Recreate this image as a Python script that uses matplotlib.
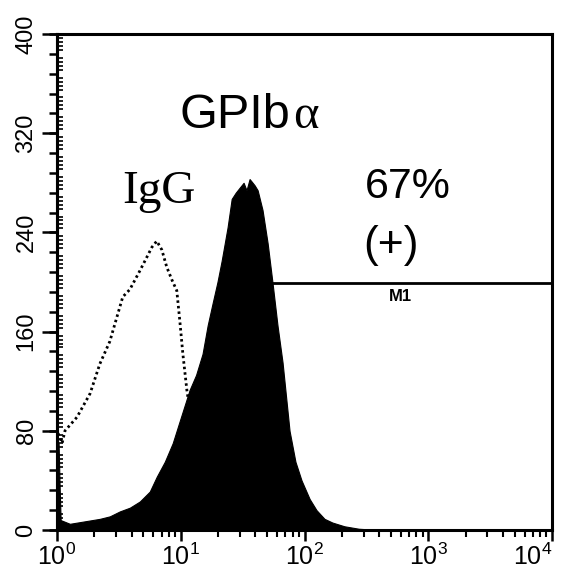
import matplotlib
matplotlib.use("Agg")
import matplotlib.pyplot as plt
from matplotlib.ticker import FixedLocator, MultipleLocator, NullFormatter, LogLocator

# ---- data ----
gp_fluor = [1.00, 1.03, 1.05, 1.07, 1.27, 1.68, 2.22, 2.67, 3.22, 3.88, 4.67, 5.62, 6.40,
            7.43, 8.61, 9.82, 11.8, 13.3, 15.0, 16.5, 18.1, 19.8, 21.4, 23.9, 25.8, 27.8,
            29.9, 32.2, 34.0, 36.0, 37.4, 39.5, 41.8, 45.8, 50.4, 55.2, 60.5, 66.5,
            75.7, 84.5, 94.6, 110, 125, 145, 168, 210, 275, 400]
gp_count = [70, 70, 35, 8, 5, 7, 9, 11, 15, 18, 23, 31, 43,
            55, 70, 88, 113, 125, 142, 165, 183, 200, 217, 244, 267, 272,
            276, 280, 274, 283, 281, 278, 274, 258, 231, 199, 165, 135,
            80, 55, 40, 25, 16, 9, 6, 3, 1, 0]

igg_fluor = [1.02, 1.10, 1.16, 1.45, 1.85, 2.22, 2.67, 3.40, 3.88, 4.67, 5.32, 5.84,
             6.40, 7.03, 7.71, 8.46, 9.29, 9.82, 10.4, 11.2, 12.3, 14.2, 17.1, 21.4, 27.2]
igg_count = [78, 70, 80, 91, 110, 134, 152, 188, 194, 209, 220, 228,
             233, 226, 212, 202, 193, 169, 142, 113, 85, 55, 28, 10, 3]

m1_start = 54
m1_level = 199

y_major = [0, 80, 160, 240, 320, 400]
x_major = [1, 10, 100, 1000, 10000]
x_labels = ["$10^{0}$", "$10^{1}$", "$10^{2}$", "$10^{3}$", "$10^{4}$"]

plt.rcParams['mathtext.fontset'] = 'custom'
plt.rcParams['mathtext.rm'] = 'Liberation Sans'
plt.rcParams['mathtext.it'] = 'Liberation Sans'
plt.rcParams['font.family'] = ['Liberation Sans', 'DejaVu Sans']

fig = plt.figure(figsize=(5.66, 5.75), dpi=100)
ax = fig.add_axes([57/566, 1-530/575, 495/566, 496/575])

ax.set_xscale('log')
ax.set_xlim(1, 10000)
ax.set_ylim(0, 400)

ax.plot(igg_fluor, igg_count, color='black', lw=2.0, linestyle=(0, (0.9, 1.1)), zorder=2)
ax.fill_between(gp_fluor, gp_count, 0, color='black', lw=0.8, edgecolor='black', zorder=3)

ax.hlines(m1_level, m1_start, 10000, color='black', lw=2, zorder=4)
ax.text(0.693, 0.47, "M1", transform=ax.transAxes, ha='center', va='center',
        fontsize=12, fontweight='bold')

for sp in ax.spines.values():
    sp.set_linewidth(2.2)

# x ticks
ax.xaxis.set_major_locator(FixedLocator(x_major))
ax.set_xticklabels(x_labels)
ax.xaxis.set_minor_locator(LogLocator(base=10, subs=range(2, 10)))
ax.xaxis.set_minor_formatter(NullFormatter())
ax.tick_params(axis='x', which='major', direction='out', length=8, width=1.8,
               labelsize=18, pad=2)
ax.tick_params(axis='x', which='minor', direction='out', length=5, width=1.5)
xl = ax.get_xticklabels()
xl[-1].set_ha('right')
xl[-1].set_x(10000)

# y ticks: medium outward on main axis, minor inward, long labelled on secondary
ax.yaxis.set_major_locator(MultipleLocator(16))
ax.yaxis.set_minor_locator(MultipleLocator(3.2))
ax.yaxis.set_major_formatter(NullFormatter())
ax.tick_params(axis='y', which='major', direction='out', length=6, width=1.8)
ax.tick_params(axis='y', which='minor', direction='in', length=4, width=1.2)

sec = ax.secondary_yaxis('left')
sec.set_yticks(y_major)
sec.set_yticklabels([str(v) for v in y_major])
sec.tick_params(axis='y', which='major', direction='out', length=11, width=1.8,
                labelsize=17, pad=3, labelrotation=90)
sec.yaxis.set_minor_locator(FixedLocator([]))
sec.spines['left'].set_linewidth(2.2)
for lab in sec.get_yticklabels():
    lab.set_va('center')

# annotations
ax.text(0.248, 0.810, "GPIb", transform=ax.transAxes, ha='left', va='baseline',
        fontsize=35)
ax.text(0.477, 0.810, "α", transform=ax.transAxes, ha='left', va='baseline',
        fontsize=35, family=['Liberation Serif', 'DejaVu Serif'])
ax.text(0.131, 0.659, "IgG", transform=ax.transAxes, ha='left', va='baseline',
        fontsize=34, family=['Liberation Serif', 'DejaVu Serif'])
ax.text(0.622, 0.669, "67%", transform=ax.transAxes, ha='left', va='baseline',
        fontsize=31)
ax.text(0.618, 0.573, "(+)", transform=ax.transAxes, ha='left', va='center',
        fontsize=32)

fig.savefig("out.png", dpi=100)
